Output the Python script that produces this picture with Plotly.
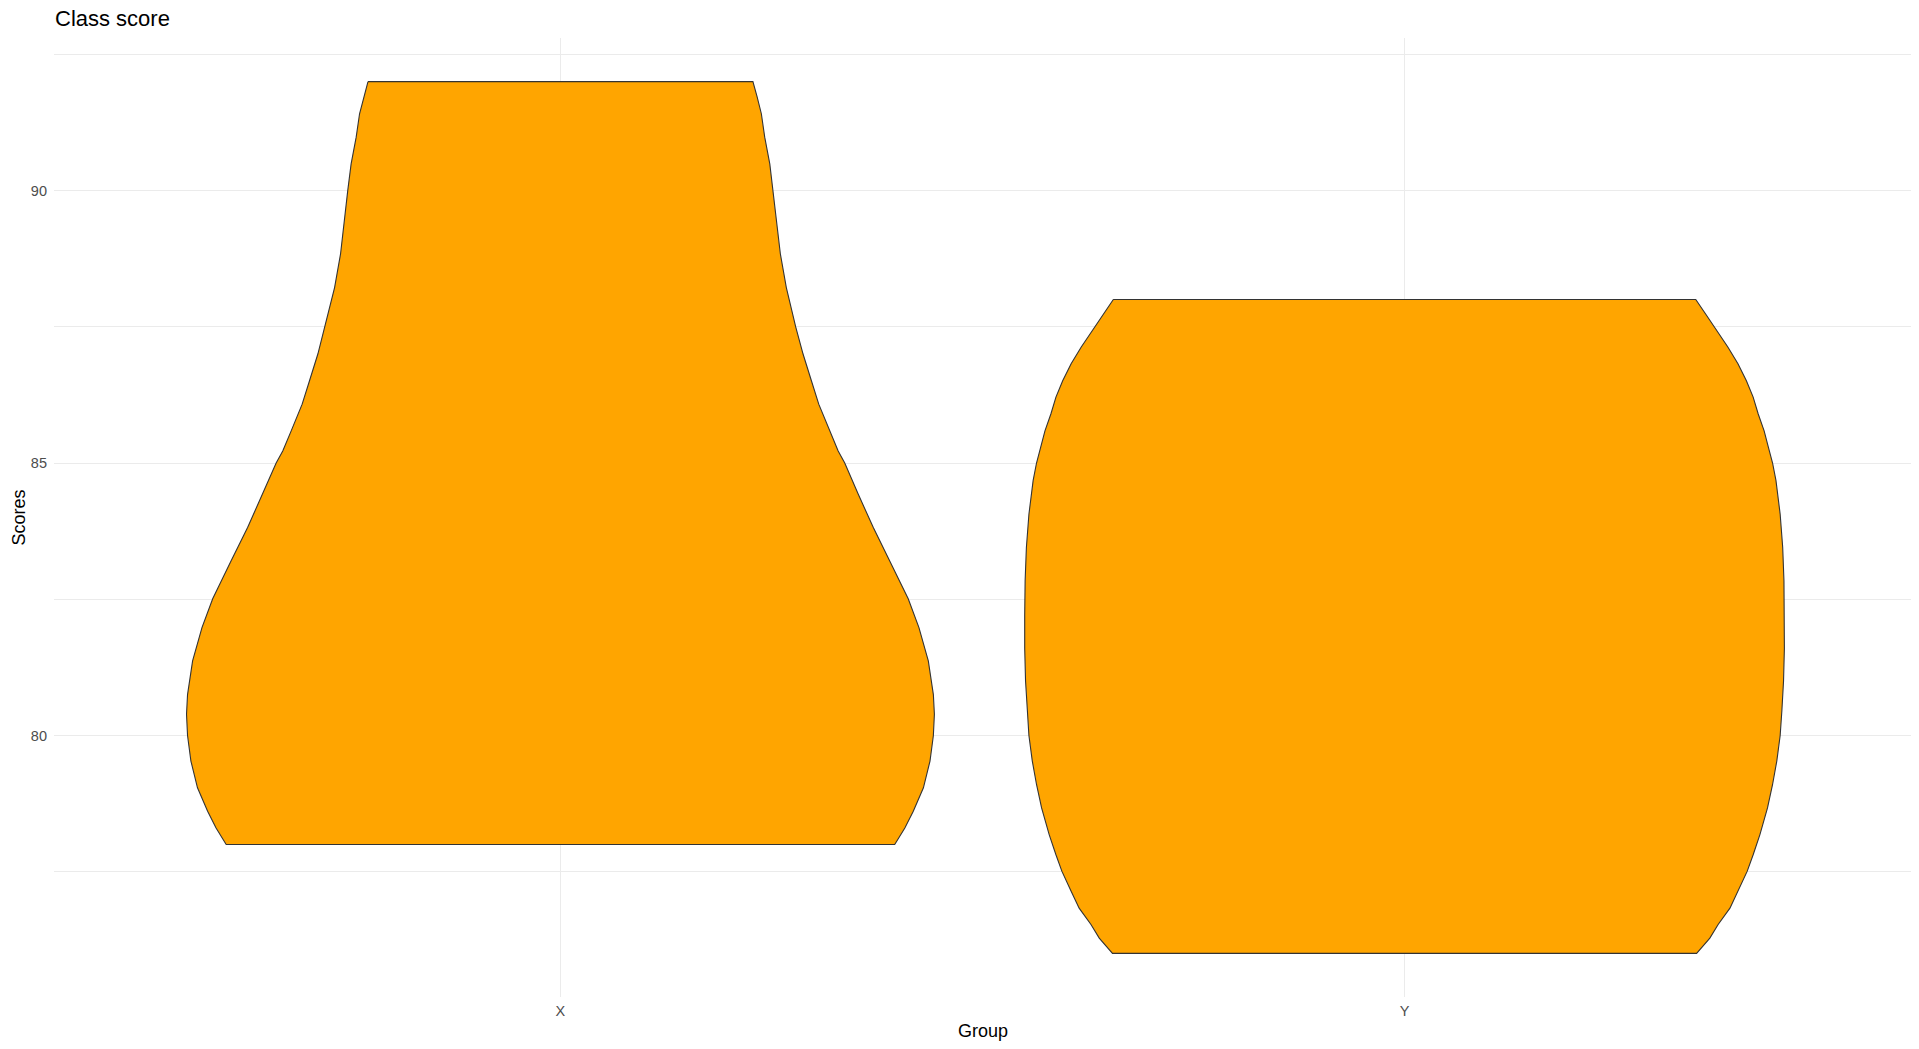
import plotly.graph_objects as go

# ---- data (violin outlines: score level -> half-width in category units)
groups = ["X", "Y"]
group_pos = [1, 2]

x_levels = [92.0, 91.72, 91.41, 90.98, 90.49, 90.0, 89.45, 88.84, 88.22, 87.92, 87.5,
            87.0, 86.51, 86.08, 85.59, 85.22, 85.0, 84.43, 83.82, 83.2, 82.51, 81.98,
            81.37, 80.75, 80.39, 80.0, 79.53, 79.04, 78.61, 78.3, 78.0]
x_halfwidth = [0.228, 0.233, 0.238, 0.242, 0.248, 0.252, 0.256, 0.2605, 0.2676, 0.2724, 0.2787,
               0.2874, 0.2973, 0.306, 0.319, 0.329, 0.3368, 0.3527, 0.3705, 0.3903, 0.412, 0.4247,
               0.4358, 0.4418, 0.443, 0.4418, 0.4378, 0.430, 0.418, 0.408, 0.396]

y_levels = [88.0, 87.74, 87.5, 87.13, 86.82, 86.51, 86.21, 85.9, 85.59, 85.29, 85.0,
            84.68, 84.06, 83.45, 82.84, 82.2, 81.6, 81.0, 80.45, 80.0, 79.53, 79.1,
            78.67, 78.18, 77.81, 77.51, 77.14, 76.83, 76.53, 76.28, 76.0]
y_halfwidth = [0.345, 0.3565, 0.3675, 0.383, 0.395, 0.405, 0.413, 0.419, 0.426, 0.431, 0.436,
               0.440, 0.445, 0.448, 0.4495, 0.450, 0.450, 0.449, 0.447, 0.445, 0.441, 0.436,
               0.430, 0.421, 0.413, 0.406, 0.395, 0.3855, 0.3715, 0.3617, 0.346]

y_ticks = [80, 85, 90]

title_text = "Class score"
x_title = "Group"
y_title = "Scores"

FILL = "#FFA500"
OUTLINE = "#333333"
FONT = "Liberation Sans, Arial, sans-serif"

fig = go.Figure()

for pos, levels, hw in [(group_pos[0], x_levels, x_halfwidth),
                        (group_pos[1], y_levels, y_halfwidth)]:
    left_x = [pos - w for w in hw]
    right_x = [pos + w for w in reversed(hw)]
    xs = left_x + right_x + [left_x[0]]
    ys = list(levels) + list(reversed(levels)) + [levels[0]]
    fig.add_trace(go.Scatter(
        x=xs, y=ys, mode="lines", fill="toself", fillcolor=FILL,
        line=dict(color=OUTLINE, width=1.1), hoverinfo="skip", showlegend=False,
    ))

fig.update_layout(
    width=1919, height=1049,
    margin=dict(l=54, r=8, t=38, b=52),
    paper_bgcolor="white", plot_bgcolor="white",
    font=dict(family=FONT),
    showlegend=False,
    xaxis=dict(
        range=[0.4, 2.6], tickmode="array", tickvals=group_pos, ticktext=groups,
        showgrid=True, gridcolor="#EBEBEB", gridwidth=1.3, zeroline=False,
        showline=False, ticks="", ticklabelstandoff=3,
        tickfont=dict(size=14.5, color="#4D4D4D", family=FONT),
    ),
    yaxis=dict(
        range=[75.2, 92.8], tickmode="array", tickvals=y_ticks,
        showgrid=True, gridcolor="#EBEBEB", gridwidth=1.3, zeroline=False,
        showline=False, ticks="", ticklabelstandoff=6,
        tickfont=dict(size=14.5, color="#4D4D4D", family=FONT),
        minor=dict(tick0=2.5, dtick=5, showgrid=True, gridcolor="#EBEBEB", gridwidth=0.9),
    ),
    annotations=[
        dict(text=title_text, xref="paper", yref="paper", x=0, y=1, xanchor="left",
             yanchor="middle", yshift=20, xshift=-1, showarrow=False,
             font=dict(size=22, color="black", family=FONT)),
        dict(text=x_title, xref="paper", yref="paper", x=0.5, y=0, xanchor="center",
             yanchor="middle", yshift=-34, showarrow=False,
             font=dict(size=18, color="black", family=FONT)),
        dict(text=y_title, xref="paper", yref="paper", x=0, y=0.5, xanchor="center",
             yanchor="middle", xshift=-36, textangle=-90, showarrow=False,
             font=dict(size=18, color="black", family=FONT)),
    ],
)

fig.write_html("out.html")
